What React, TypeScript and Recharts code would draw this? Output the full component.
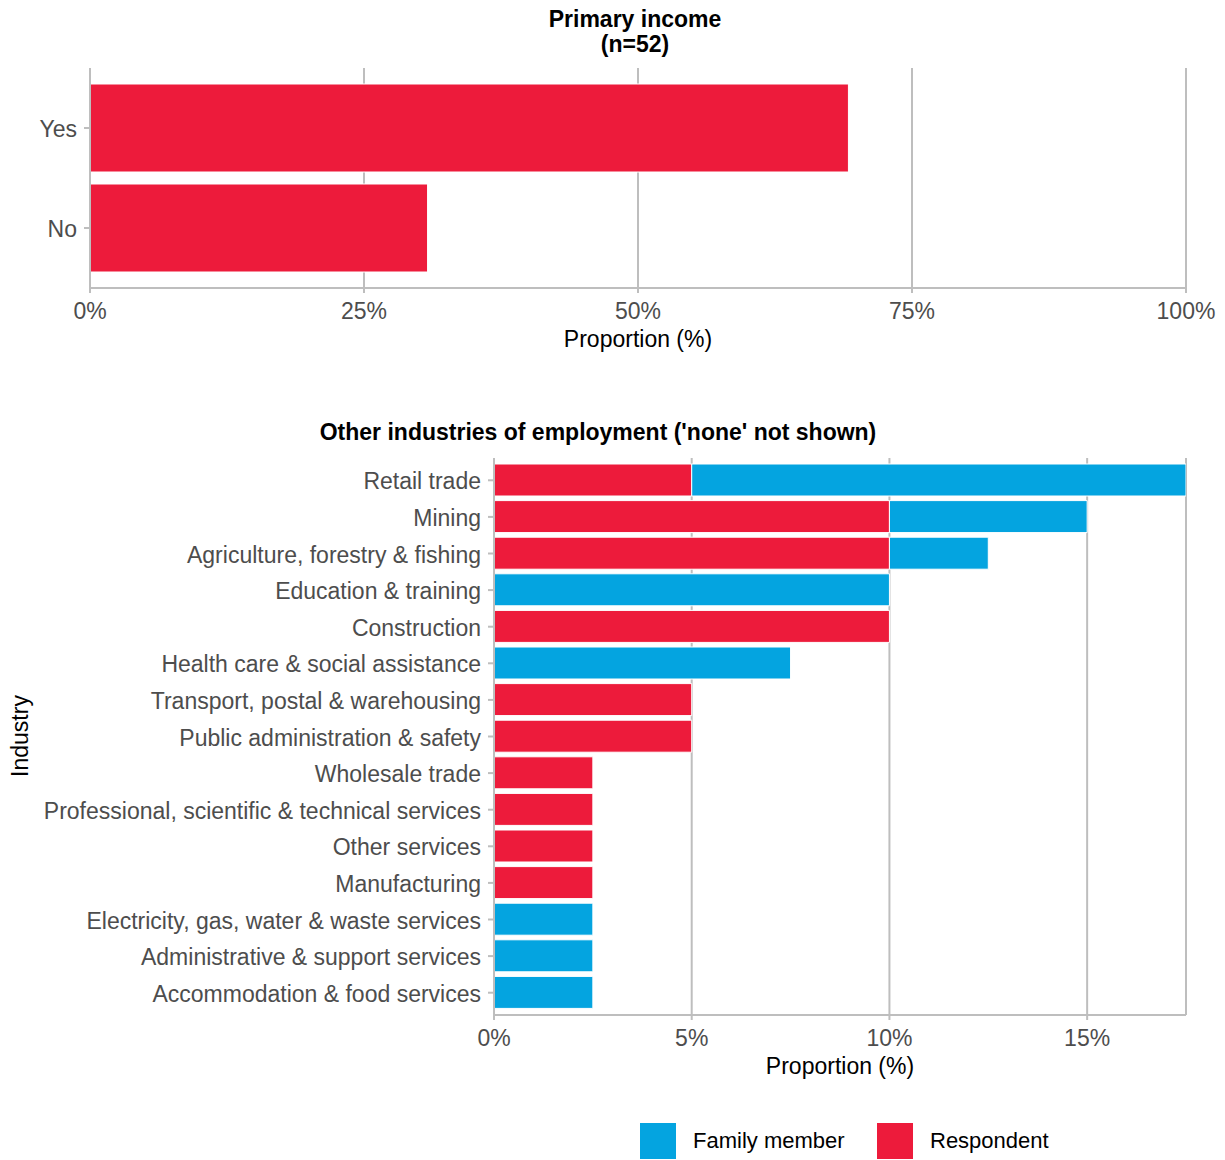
import { BarChart, Bar, XAxis, YAxis, CartesianGrid } from 'recharts';

const RED = '#ED1B3B';
const BLUE = '#04A4E0';
const GRID = '#BEBEBE';
const TICK_TEXT = '#4D4D4D';
const FONT = '"Liberation Sans", Arial, sans-serif';
const FS = 23;

// primary income
const incomeLabels = ['Yes', 'No'];
const incomeShare = [69.2, 30.8];
const incomeTicks = [0, 25, 50, 75, 100];

// other industries (% of responses)
const industries = [
  'Retail trade',
  'Mining',
  'Agriculture, forestry & fishing',
  'Education & training',
  'Construction',
  'Health care & social assistance',
  'Transport, postal & warehousing',
  'Public administration & safety',
  'Wholesale trade',
  'Professional, scientific & technical services',
  'Other services',
  'Manufacturing',
  'Electricity, gas, water & waste services',
  'Administrative & support services',
  'Accommodation & food services',
];
const respondentPct = [5, 10, 10, 0, 10, 0, 5, 5, 2.5, 2.5, 2.5, 2.5, 0, 0, 0];
const familyPct = [12.5, 5, 2.5, 10, 0, 7.5, 0, 0, 0, 0, 0, 0, 2.5, 2.5, 2.5];
const industryTicks = [0, 5, 10, 15];

const incomeData = incomeLabels.map((label, i) => ({ label, share: incomeShare[i] }));
const industryData = industries.map((name, i) => ({
  name,
  respondent: respondentPct[i],
  family: familyPct[i],
}));

const XTick = (props: any) => {
  const { x, y, payload } = props;
  return (
    <text x={x} y={y + 18} textAnchor="middle" dominantBaseline="central" fill={TICK_TEXT} fontSize={FS} fontFamily={FONT}>
      {payload.value}%
    </text>
  );
};

const YTick = (props: any) => {
  const { x, y, payload } = props;
  return (
    <text x={x} y={y + 1} textAnchor="end" dominantBaseline="central" fill={TICK_TEXT} fontSize={FS} fontFamily={FONT}>
      {payload.value}
    </text>
  );
};

const abs = (left: number, top: number, width: number, extra: any = {}) => ({
  position: 'absolute' as const,
  left,
  top,
  width,
  textAlign: 'center' as const,
  lineHeight: '25px',
  fontSize: FS,
  color: '#000',
  ...extra,
});

export default function App() {
  return (
    <div style={{ position: 'absolute', left: 0, top: 0, width: 1225, height: 1160, background: '#fff', fontFamily: FONT, overflow: 'hidden' }}>
      <div style={abs(90, 7, 1090, { fontWeight: 'bold' })}>
        Primary income
        <br />
        (n=52)
      </div>

      <div style={{ position: 'absolute', left: 0, top: 0 }}>
        <BarChart width={1225} height={360} data={incomeData} layout="vertical" margin={{ top: 68, right: 39, bottom: 0, left: 0 }}>
          <CartesianGrid horizontal={false} stroke={GRID} strokeWidth={2} />
          <XAxis
            type="number"
            domain={[0, 100]}
            ticks={incomeTicks}
            height={72}
            tick={<XTick />}
            tickSize={5}
            tickMargin={0}
            stroke={GRID}
            strokeWidth={2}
          />
          <YAxis
            type="category"
            dataKey="label"
            width={90}
            padding={{ top: 10, bottom: 10 }}
            tick={<YTick />}
            tickSize={6}
            tickMargin={7}
            stroke={GRID}
            strokeWidth={2}
          />
          <Bar dataKey="share" fill={RED} stroke="#fff" strokeWidth={1} barSize={88} isAnimationActive={false} />
        </BarChart>
      </div>

      <div style={abs(90, 327, 1096)}>Proportion (%)</div>

      <div style={abs(0, 420, 1196, { fontWeight: 'bold' })}>Other industries of employment ('none' not shown)</div>

      <div style={{ position: 'absolute', left: 0, top: 400 }}>
        <BarChart width={1225} height={700} data={industryData} layout="vertical" margin={{ top: 58, right: 39, bottom: 0, left: 0 }}>
          <CartesianGrid horizontal={false} stroke={GRID} strokeWidth={2} />
          <XAxis
            type="number"
            domain={[0, 17.5]}
            ticks={industryTicks}
            allowDataOverflow
            height={85}
            tick={<XTick />}
            tickSize={5}
            tickMargin={0}
            stroke={GRID}
            strokeWidth={2}
          />
          <YAxis
            type="category"
            dataKey="name"
            width={494}
            padding={{ top: 4, bottom: 4 }}
            tick={<YTick />}
            tickSize={6}
            tickMargin={7}
            stroke={GRID}
            strokeWidth={2}
            interval={0}
          />
          <Bar dataKey="respondent" stackId="a" fill={RED} stroke="#fff" strokeWidth={1} barSize={32} isAnimationActive={false} />
          <Bar dataKey="family" stackId="a" fill={BLUE} stroke="#fff" strokeWidth={1} barSize={32} isAnimationActive={false} />
        </BarChart>
      </div>

      <div style={abs(494, 1054, 692)}>Proportion (%)</div>

      <div
        style={{
          position: 'absolute',
          left: 20 - 60,
          top: 736 - 12,
          width: 120,
          lineHeight: '24px',
          textAlign: 'center',
          fontSize: FS,
          transform: 'rotate(-90deg)',
        }}
      >
        Industry
      </div>

      <div style={{ position: 'absolute', left: 639, top: 1122, display: 'flex', alignItems: 'center', fontSize: 22 }}>
        <span style={{ width: 38, height: 38, background: BLUE, border: '1px solid #fff', boxSizing: 'border-box' }} />
        <span style={{ marginLeft: 16, width: 183 }}>Family member</span>
        <span style={{ width: 38, height: 38, background: RED, border: '1px solid #fff', boxSizing: 'border-box' }} />
        <span style={{ marginLeft: 16 }}>Respondent</span>
      </div>
    </div>
  );
}
